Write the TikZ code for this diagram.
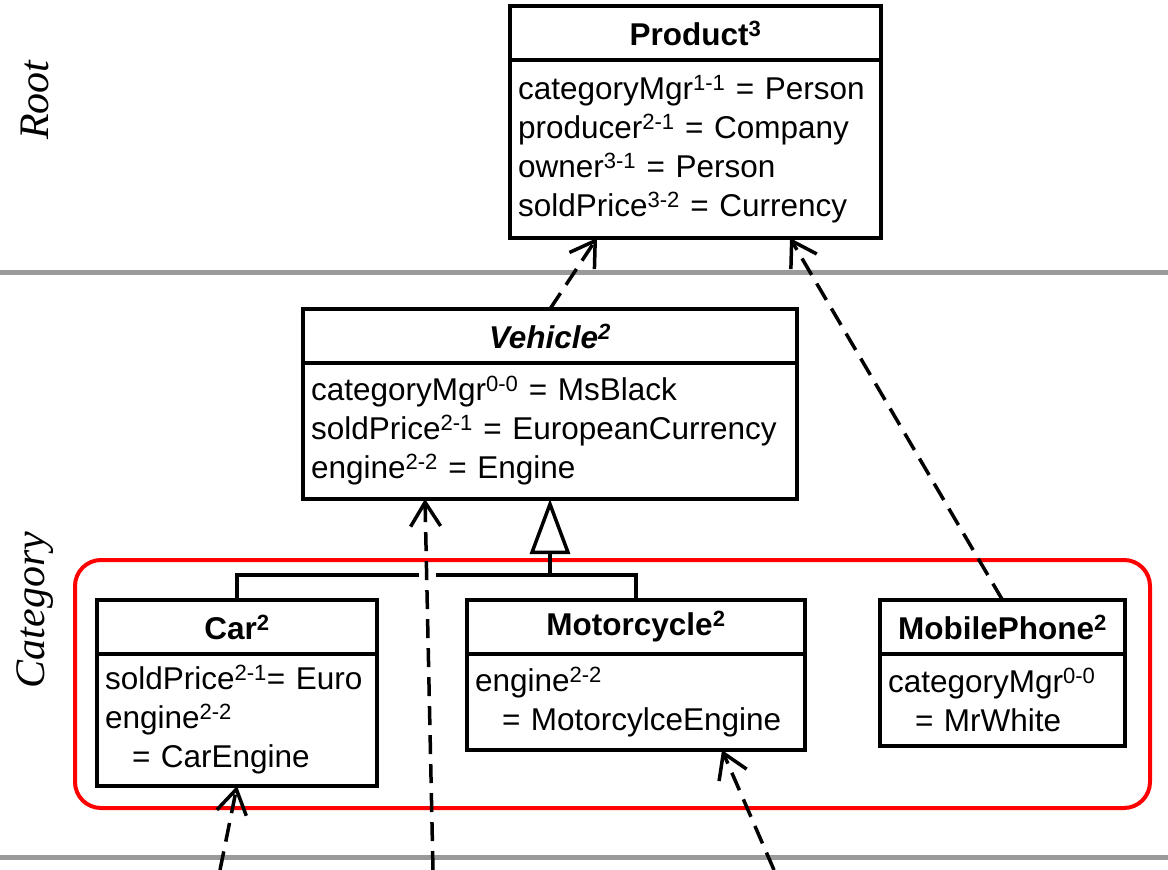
\documentclass[tikz,border=0pt]{standalone}
\usepackage{fontspec}
\setmainfont{Liberation Sans}
\newfontfamily\layerfont{Liberation Serif}
\usepackage{tikz}
\usetikzlibrary{positioning,arrows.meta,calc}
\definecolor{layergray}{HTML}{9A9A9A}
\definecolor{groupred}{HTML}{FF0000}
\tikzset{
  clshead/.style={draw,line width=3.5pt,outer sep=0pt,inner sep=0pt,anchor=north west,
    minimum height=54pt,font=\fontsize{31.5}{39}\selectfont\bfseries},
  clsbody/.style={draw,line width=3.5pt,outer sep=0pt,inner xsep=8pt,inner ysep=0pt,
    align=left,font=\fontsize{31.5}{39}\selectfont},
  layerlbl/.style={rotate=90,font=\layerfont\itshape\fontsize{42}{42}\selectfont},
  layerline/.style={draw=layergray,line width=5pt},
  dep/.style={-{Straight Barb[length=24pt,width=30pt,line width=3.5pt]},line width=3.5pt,
    dash pattern=on 19pt off 10pt},
  genline/.style={line width=3.5pt},
  group/.style={draw=groupred,line width=4pt,rounded corners=26pt},
}
\begin{document}
\begin{tikzpicture}[x=1pt,y=-1pt,node distance=0pt]
  \useasboundingbox (0,0) rectangle (1168,870);
  \draw[layerline] (0,272) -- (1168,272);
  \draw[layerline] (0,857) -- (1168,857);
  \node[layerlbl] (root) at (35,100) {Root};
  \node[layerlbl] (category) at (35,610) {Category};

  \node[clshead,minimum width=371pt] (prodhead) at (510,6) {Product\textsuperscript{3}};
  \node[clsbody,text width=355pt,minimum height=178pt,below=of prodhead] (prodbody)
    {categoryMgr\textsuperscript{1-1} = Person\\producer\textsuperscript{2-1} = Company\\
     owner\textsuperscript{3-1} = Person\\soldPrice\textsuperscript{3-2} = Currency};

  \node[clshead,minimum width=494pt] (vehhead) at (303,309) {\itshape Vehicle\textsuperscript{2}};
  \node[clsbody,text width=478pt,minimum height=136pt,below=of vehhead] (vehbody)
    {categoryMgr\textsuperscript{0-0} = MsBlack\\soldPrice\textsuperscript{2-1} = EuropeanCurrency\\
     engine\textsuperscript{2-2} = Engine};

  \node[clshead,minimum width=280pt] (carhead) at (97,600) {Car\textsuperscript{2}};
  \node[clsbody,text width=264pt,minimum height=132pt,below=of carhead] (carbody)
    {soldPrice\textsuperscript{2-1}= Euro\\engine\textsuperscript{2-2}\\\hspace*{27pt}= CarEngine};

  \node[clshead,minimum width=338pt] (motohead) at (467,600) {Motorcycle\textsuperscript{2}};
  \node[clsbody,text width=322pt,minimum height=96pt,below=of motohead] (motobody)
    {engine\textsuperscript{2-2}\\\hspace*{27pt}= MotorcylceEngine};

  \node[clshead,minimum width=245pt] (mphead) at (880,600) {MobilePhone\textsuperscript{2}};
  \node[clsbody,text width=229pt,minimum height=92pt,below=of mphead] (mpbody)
    {categoryMgr\textsuperscript{0-0}\\\hspace*{27pt}= MrWhite};

  \draw[group] (75,560) rectangle (1150,808);

  % generalization tree
  \coordinate (bar) at (0,575);
  \draw[genline] (carhead.north) |- (bar -| vehbody.south) -| (motohead.north);
  \draw[genline,-{Triangle[open,length=55pt,width=40pt,line width=3.5pt]}]
    (bar -| vehbody.south) -- (vehbody.south);
  \fill[white] (419,572) rectangle (436,578);

  \coordinate (carin) at (220,870);
  \coordinate (vehin) at (433,870);
  \coordinate (motoin) at (774,870);
  \draw[dep] (vehhead.north) -- ([xshift=87pt]prodbody.south west);
  \draw[dep] (mphead.north) -- ([xshift=280pt]prodbody.south west);
  \draw[dep] (carin) -- (carbody.south);
  \draw[dep] (vehin) -- ([xshift=122pt]vehbody.south west);
  \draw[dep] (motoin) -- ([xshift=255pt]motobody.south west);
\end{tikzpicture}
\end{document}
